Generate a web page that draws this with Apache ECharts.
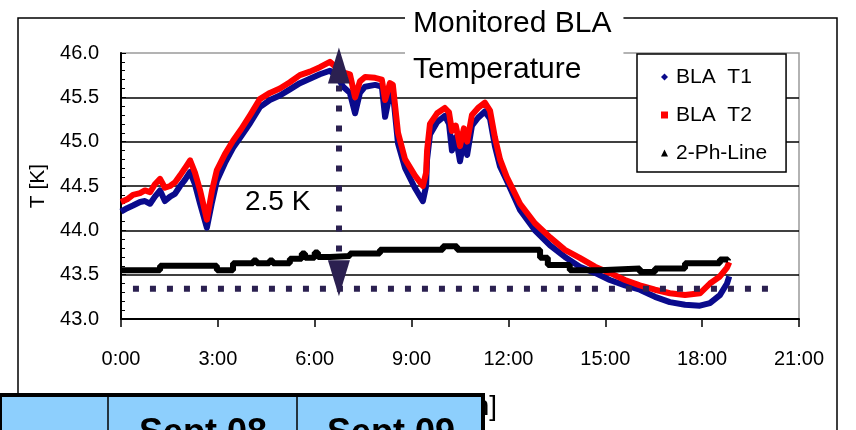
<!DOCTYPE html>
<html>
<head>
<meta charset="utf-8">
<script src="https://cdn.jsdelivr.net/npm/echarts@6/dist/echarts.min.js"></script>
<style>
html,body{margin:0;padding:0;background:#fff;}
#chart{width:856px;height:430px;}
</style>
</head>
<body>
<div id="chart"></div>
<script>
// ---- data (hours since 0:00, temperature in K) ----
const timeH = [0,0.19,0.37,0.59,0.74,0.9,1.05,1.21,1.36,1.52,1.67,1.83,1.98,2.14,2.29,2.45,2.66,2.82,2.97,3.22,3.47,3.72,4.0,4.3,4.61,4.92,5.23,5.54,5.85,6.16,6.47,6.69,6.88,7.09,7.25,7.4,7.56,7.87,8.08,8.18,8.33,8.42,8.58,8.8,9.1,9.35,9.45,9.48,9.57,9.79,10.03,10.16,10.25,10.37,10.5,10.62,10.72,10.87,11.06,11.27,11.43,11.58,11.74,11.95,12.36,12.82,13.29,13.75,14.21,14.68,15.14,15.61,16.07,16.54,17.0,17.47,17.93,18.24,18.55,18.77,18.84];
const blaT1 = [44.21,44.25,44.28,44.32,44.33,44.30,44.38,44.45,44.33,44.38,44.41,44.50,44.57,44.66,44.52,44.30,44.03,44.32,44.56,44.76,44.93,45.06,45.21,45.39,45.47,45.52,45.59,45.66,45.71,45.76,45.80,45.74,45.62,45.55,45.32,45.55,45.62,45.64,45.62,45.28,45.55,45.56,44.98,44.70,44.48,44.33,44.50,44.80,45.08,45.22,45.29,45.20,44.90,45.05,44.78,45.02,44.85,45.18,45.27,45.34,45.26,44.95,44.72,44.56,44.23,44.00,43.83,43.70,43.59,43.52,43.44,43.38,43.33,43.25,43.19,43.16,43.15,43.18,43.27,43.40,43.48];
const blaT2 = [44.32,44.35,44.40,44.42,44.45,44.43,44.52,44.58,44.48,44.50,44.54,44.62,44.70,44.79,44.65,44.45,44.12,44.45,44.68,44.86,45.01,45.14,45.30,45.48,45.55,45.60,45.67,45.75,45.79,45.84,45.90,45.83,45.78,45.76,45.50,45.68,45.73,45.72,45.70,45.47,45.66,45.64,45.10,44.80,44.62,44.50,44.65,44.90,45.20,45.32,45.38,45.33,45.12,45.18,44.95,45.15,45.00,45.30,45.38,45.44,45.35,45.05,44.80,44.60,44.30,44.08,43.92,43.78,43.69,43.59,43.52,43.44,43.38,43.33,43.29,43.27,43.29,43.40,43.48,43.58,43.64];
const twoPhH = [0,1.21,2.97,3.47,4.1,4.2,4.6,4.7,5.23,5.6,5.7,6.0,6.1,6.47,7.09,8.02,9.97,10.41,12.98,13.22,13.9,14.83,16.07,16.54,17.47,18.55,18.8];
const twoPhV = [43.55,43.60,43.55,43.63,43.66,43.63,43.66,43.63,43.68,43.74,43.69,43.75,43.70,43.71,43.74,43.78,43.82,43.78,43.69,43.61,43.55,43.57,43.53,43.57,43.63,43.67,43.66];
const limitH = [0.37,20.1];
const limitV = [43.34,43.34];
const arrowH = 6.75;
const arrowTopV = 45.86;
const arrowBottomV = 43.46;
const arrowLabel = '2.5 K';
const xTickLabels = ['0:00','3:00','6:00','9:00','12:00','15:00','18:00','21:00'];
const yTicks = [43.0,43.5,44.0,44.5,45.0,45.5,46.0];
const seriesNames = ['BLA  T1','BLA  T2','2-Ph-Line'];
const tableCells = ['', 'Sept 08', 'Sept 09'];

const FONT = "'Liberation Sans', Arial, sans-serif";
const NAVY = '#2b2050';

function pairs(xs, ys){ return xs.map((x,i)=>[x, ys[i]]); }

const chart = echarts.init(document.getElementById('chart'), null, {renderer:'canvas'});
const option = {
  animation:false,
  backgroundColor:'#fff',
  title:{
    text:'Monitored BLA\nTemperature',
    left:405, top:0,
    backgroundColor:'#fff',
    padding:[1,12,1,8],
    z:6,
    textStyle:{fontFamily:FONT, fontSize:30, fontWeight:'normal', color:'#000', lineHeight:46}
  },
  legend:{
    orient:'vertical',
    left:637, top:54,
    width:150,
    padding:[12,19,8,24],
    itemGap:16,
    itemWidth:7, itemHeight:7,
    backgroundColor:'#fff',
    borderColor:'#000', borderWidth:1.5, borderRadius:0,
    textStyle:{fontFamily:FONT, fontSize:21, color:'#000', lineHeight:22},
    formatter: n => '{a|' + n + '}',
    data:[
      {name:seriesNames[0], icon:'diamond'},
      {name:seriesNames[1], icon:'rect'},
      {name:seriesNames[2], icon:'triangle'}
    ],
    z:8
  },
  grid:{left:121, right:57, top:53, bottom:111, show:true, borderColor:'#9a9a9a', borderWidth:1.5, backgroundColor:'transparent'},
  xAxis:{
    type:'value', min:0, max:21, interval:3,
    name:'Time [h]', nameLocation:'middle', nameGap:74,
    nameTextStyle:{fontFamily:FONT, fontSize:28, color:'#000', padding:[0,26,0,0]},
    axisLine:{lineStyle:{color:'#000', width:2}},
    axisTick:{show:true, inside:false, length:8, lineStyle:{color:'#000', width:1.5}},
    axisLabel:{margin:30, fontFamily:FONT, fontSize:20, color:'#000',
      formatter: v => xTickLabels[Math.round(v/3)]},
    splitLine:{show:false}
  },
  yAxis:{
    type:'value', min:43, max:46, interval:0.5,
    name:'T [K]', nameLocation:'middle', nameGap:72, nameRotate:90,
    nameTextStyle:{fontFamily:FONT, fontSize:21, color:'#000'},
    axisLine:{show:true, lineStyle:{color:'#000', width:2}},
    axisTick:{show:true, inside:true, length:5, lineStyle:{color:'#000', width:1}},
    minorTick:{show:true, splitNumber:5, length:4, lineStyle:{color:'#000', width:1}},
    axisLabel:{margin:22, fontFamily:FONT, fontSize:20, color:'#000',
      formatter: v => yTicks.find(t => Math.abs(t - v) < 1e-6).toFixed(1)},
    splitLine:{show:true, showMaxLine:false, lineStyle:{color:'#000', width:1.5}}
  },
  series:[
    {
      name:seriesNames[0], type:'line', data:pairs(timeH, blaT1),
      showSymbol:false, color:'#0a0a8c',
      lineStyle:{width:6, color:'#0a0a8c', join:'round'}, z:2
    },
    {
      name:seriesNames[1], type:'line', data:pairs(timeH, blaT2),
      showSymbol:false, color:'#ff0000',
      lineStyle:{width:6, color:'#ff0000', join:'round'}, z:2
    },
    {
      name:seriesNames[2], type:'line', data:pairs(twoPhH, twoPhV), step:'end',
      showSymbol:false, color:'#000',
      lineStyle:{width:6, color:'#000'}, z:2
    },
    {
      name:'limit', type:'line', data:pairs(limitH, limitV),
      showSymbol:false, color:NAVY,
      lineStyle:{width:6, color:NAVY, type:[6,11], cap:'butt'}, z:3,
      markLine:{
        silent:true,
        symbol:['triangle','triangle'],
        symbolSize:[22,36],
        label:{show:false},
        lineStyle:{color:NAVY, width:6, type:[6,14], cap:'butt'},
        data:[[{coord:[arrowH, arrowTopV]},{coord:[arrowH, arrowBottomV]}]]
      }
    }
  ],
  graphic:[
    {type:'rect', z:-1, silent:true, shape:{x:18, y:18, width:819, height:430}, style:{fill:'none', stroke:'#000', lineWidth:1.5}},
    {type:'text', z:10, left:245, top:188, style:{text:arrowLabel, fontFamily:FONT, fontSize:28, fill:'#000'}},
    {type:'group', z:100, children:[
      {type:'rect', z:100, shape:{x:0, y:395, width:483, height:50}, style:{fill:'#8dcffd', stroke:'#000', lineWidth:4}},
      {type:'line', z:101, shape:{x1:108, y1:396, x2:108, y2:430}, style:{stroke:'#000', lineWidth:1.5}},
      {type:'line', z:101, shape:{x1:297, y1:396, x2:297, y2:430}, style:{stroke:'#000', lineWidth:1.5}},
      {type:'text', z:102, x:203, y:434, style:{text:tableCells[1], fontFamily:FONT, fontWeight:'bold', fontSize:36, fill:'#000', align:'center', verticalAlign:'middle'}},
      {type:'text', z:102, x:391, y:434, style:{text:tableCells[2], fontFamily:FONT, fontWeight:'bold', fontSize:36, fill:'#000', align:'center', verticalAlign:'middle'}}
    ]}
  ]
};
option.legend.textStyle.rich = {a:{fontFamily:FONT, fontSize:21, color:'#000', padding:[0,0,0,3]}};
chart.setOption(option);
</script>
</body>
</html>
